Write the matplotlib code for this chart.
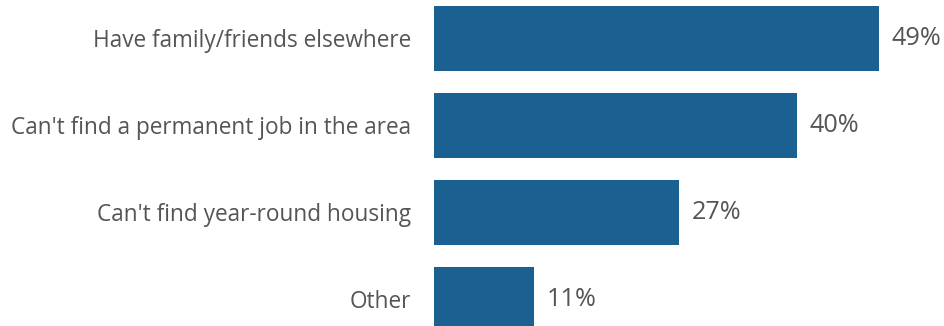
import matplotlib.pyplot as plt

plt.rcParams['font.family'] = ['Open Sans', 'DejaVu Sans']

# data
reasons = ['Have family/friends elsewhere',
           "Can't find a permanent job in the area",
           "Can't find year-round housing",
           'Other']
shares = [49, 40, 27, 11]

bar_color = '#1a6191'
text_color = '#555555'

fig = plt.figure(figsize=(9.45, 3.26), dpi=100)
ax = fig.add_axes([434 / 945, 0, 511 / 945, 1])

pos = list(range(len(reasons)))
ax.barh(pos, shares, height=0.75, color=bar_color)

for p, v in zip(pos, shares):
    ax.text(v + 1.4, p, f'{v}%', va='center', ha='left',
            fontsize=18.2, color=text_color)

ax.set_yticks(pos)
ax.set_yticklabels(reasons, fontsize=16.3, color=text_color)
ax.tick_params(axis='y', length=0, pad=16.5)
ax.set_xticks([])
ax.set_xlim(0, 56.3)
ax.set_ylim(3.305, -0.4425)
for s in ax.spines.values():
    s.set_visible(False)

fig.savefig('out.png', dpi=100)
